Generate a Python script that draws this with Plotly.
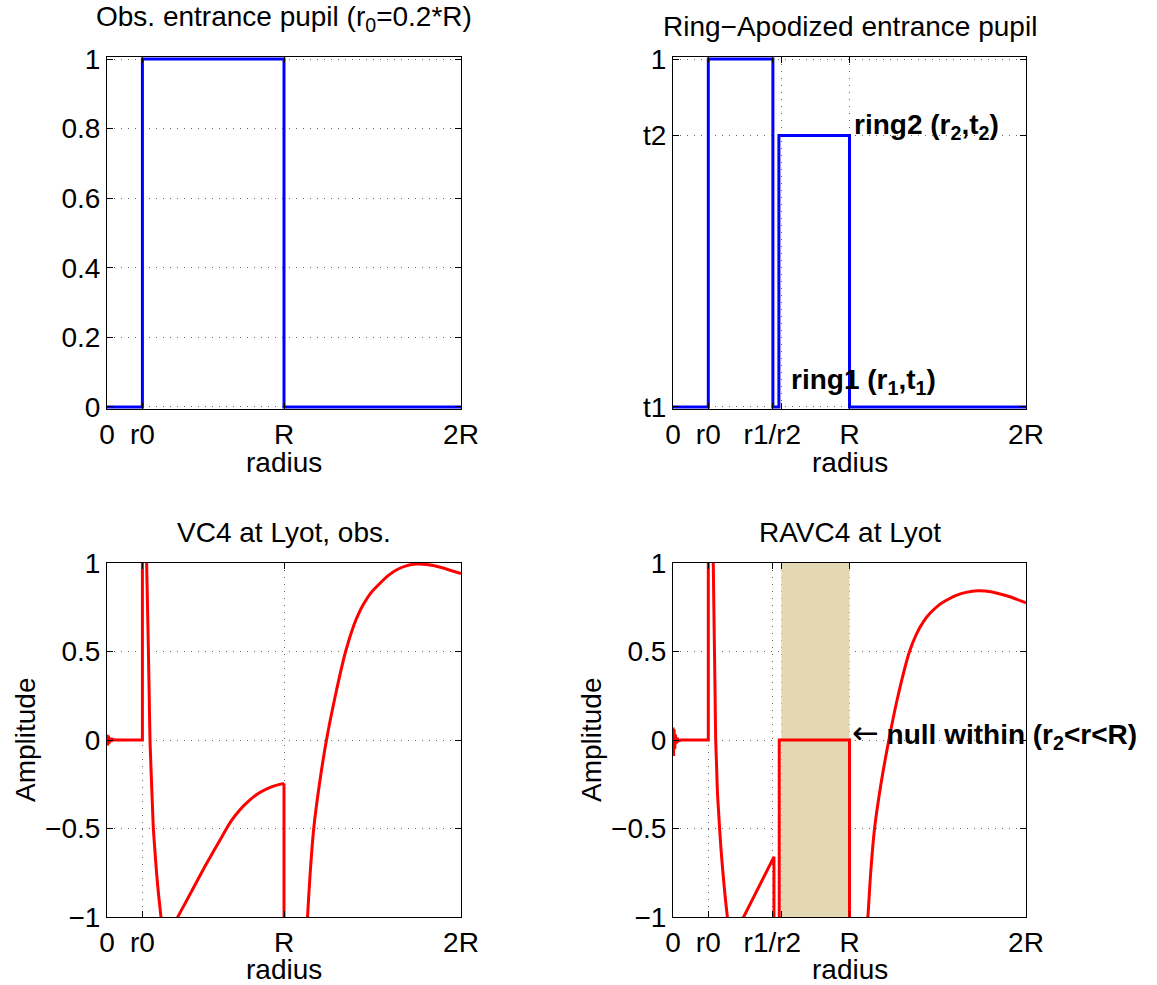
import plotly.graph_objects as go

W, H = 1157, 985
FONT = "Liberation Sans, Arial, Helvetica, sans-serif"
FS = 28

# ---- data (x in units of R) ----
# top-left: obstructed entrance pupil
obs_x = [0.0, 0.2, 0.2, 1.0, 1.0, 2.0]
obs_y = [0.0, 0.0, 1.0, 1.0, 0.0, 0.0]

# top-right: ring-apodized pupil (t1 at bottom, t2 level)
t1 = 0.0
t2 = 0.78
ring_x = [0.0, 0.2, 0.2, 0.566, 0.566, 0.600, 0.600, 1.0, 1.0, 2.0]
ring_y = [t1, t1, 1.0, 1.0, t1, t1, t2, t2, t1, t1]

# bottom-left: VC4 at Lyot, obstructed (steps drawn straight, curves smooth)
vc4_step1_x = [0.0, 0.004, 0.008, 0.012, 0.017, 0.023, 0.03, 0.04, 0.2, 0.2]
vc4_step1_y = [0.03, -0.03, 0.025, -0.02, 0.012, -0.008, 0.004, 0.0, 0.0, 3.0]
vc4_fall_x = [0.2, 0.205, 0.214, 0.224, 0.229, 0.234, 0.2385, 0.243, 0.2475, 0.252,
              0.257, 0.262, 0.271, 0.28, 0.292, 0.305, 0.32]
vc4_fall_y = [3.0, 2.6, 1.6, 1.0, 0.75, 0.5, 0.25, 0.0, -0.13, -0.25,
              -0.38, -0.5, -0.63, -0.75, -0.88, -1.0, -1.15]
vc4_rise_x = [0.385, 0.4, 0.45, 0.5, 0.55, 0.6, 0.65, 0.7, 0.75, 0.8, 0.85, 0.9, 0.95, 1.0]
vc4_rise_y = [-1.03, -1.0, -0.907, -0.814, -0.72, -0.632, -0.545, -0.46, -0.395, -0.345,
              -0.305, -0.278, -0.258, -0.245]
vc4_step2_x = [1.0, 1.0]
vc4_step2_y = [-0.245, -1.5]
vc4_outer_x = [1.122, 1.133, 1.148, 1.168, 1.2, 1.24, 1.29, 1.348, 1.395, 1.42, 1.448,
               1.49, 1.542, 1.59, 1.637, 1.69, 1.75, 1.85, 2.0]
vc4_outer_y = [-1.2, -1.0, -0.75, -0.5, -0.25, 0.0, 0.25, 0.5, 0.65, 0.71, 0.765,
               0.83, 0.885, 0.93, 0.962, 0.984, 0.994, 0.985, 0.94]

# bottom-right: RAVC4 at Lyot
ravc_step1_x = [0.0, 0.003, 0.006, 0.01, 0.014, 0.019, 0.025, 0.032, 0.045, 0.2, 0.2]
ravc_step1_y = [0.07, -0.09, 0.06, -0.05, 0.03, -0.02, 0.01, -0.005, 0.0, 0.0, 3.0]
ravc_fall_x = [0.2, 0.206, 0.216, 0.228, 0.2315, 0.235, 0.2385, 0.242, 0.247, 0.252,
               0.258, 0.264, 0.273, 0.283, 0.295, 0.308, 0.322]
ravc_fall_y = [3.0, 2.6, 1.6, 1.0, 0.75, 0.5, 0.25, 0.0, -0.15, -0.3,
               -0.4, -0.5, -0.63, -0.75, -0.88, -1.0, -1.12]
ravc_mid_x = [0.39, 0.572, 0.572, 0.602, 0.602, 1.0, 1.0]
ravc_mid_y = [-1.02, -0.66, -1.5, -1.5, 0.0, 0.0, -1.5]
ravc_outer_x = [1.094, 1.104, 1.12, 1.142, 1.178, 1.223, 1.275, 1.34, 1.38, 1.42, 1.46,
                1.51, 1.56, 1.605, 1.66, 1.727, 1.8, 1.9, 2.0]
ravc_outer_y = [-1.1, -1.0, -0.75, -0.5, -0.25, 0.0, 0.25, 0.5, 0.6, 0.67, 0.72,
                0.765, 0.795, 0.817, 0.834, 0.843, 0.838, 0.812, 0.775]

# null zone band (r2 < r < R)
band_x = [0.614, 1.0]

# ticks
left_xticks = [0.0, 0.2, 1.0, 2.0]
left_xlabels = ["0", "r0", "R", "2R"]
right_xticks = [0.0, 0.2, 0.563, 0.614, 1.0, 2.0]
right_xlabels = ["0", "r0", "r1/r2", "", "R", "2R"]
tl_yticks = [0.0, 0.2, 0.4, 0.6, 0.8, 1.0]
tl_ylabels = ["0", "0.2", "0.4", "0.6", "0.8", "1"]
tr_yticks = [t1, t2, 1.0]
tr_ylabels = ["t1", "t2", "1"]
amp_yticks = [-1.0, -0.5, 0.0, 0.5, 1.0]
amp_ylabels = ["\u22121", "\u22120.5", "0", "0.5", "1"]

# ---- figure ----
def px_x(p):
    return p / W

def px_y(p):
    return 1 - p / H

LX = [px_x(107), px_x(461)]
RX = [px_x(673), px_x(1026)]
TY = [px_y(409), px_y(57)]
BY = [px_y(917), px_y(563)]

BLUE = "#0000FF"
RED = "#FF0000"

fig = go.Figure()

def line(x, y, color, xa, ya, shape="linear"):
    fig.add_trace(go.Scatter(x=x, y=y, mode="lines",
                             line=dict(color=color, width=3, shape=shape, smoothing=0.8),
                             xaxis=xa, yaxis=ya, showlegend=False, hoverinfo="skip"))

line(obs_x, obs_y, BLUE, "x", "y")
line(ring_x, ring_y, BLUE, "x2", "y2")

line(vc4_step1_x, vc4_step1_y, RED, "x3", "y3")
line(vc4_fall_x, vc4_fall_y, RED, "x3", "y3", "spline")
line(vc4_rise_x, vc4_rise_y, RED, "x3", "y3", "spline")
line(vc4_step2_x, vc4_step2_y, RED, "x3", "y3")
line(vc4_outer_x, vc4_outer_y, RED, "x3", "y3", "spline")

line(ravc_step1_x, ravc_step1_y, RED, "x4", "y4")
line(ravc_fall_x, ravc_fall_y, RED, "x4", "y4", "spline")
line(ravc_mid_x, ravc_mid_y, RED, "x4", "y4")
line(ravc_outer_x, ravc_outer_y, RED, "x4", "y4", "spline")

def axis(domain, anchor, tickvals, ticktext, rng):
    return dict(domain=domain, anchor=anchor, range=rng, tickmode="array",
                tickvals=tickvals, ticktext=ticktext, automargin=False,
                showline=True, linecolor="black", linewidth=1, mirror="allticks",
                ticks="inside", ticklen=6, tickcolor="black", tickwidth=1,
                showgrid=True, gridcolor="rgba(0,0,0,0.6)", griddash="1px,6px", gridwidth=1,
                zeroline=False, tickfont=dict(family=FONT, size=FS, color="black"),
                fixedrange=True)

pad = 0.006
fig.update_layout(
    template="none",
    width=W, height=H, autosize=False,
    margin=dict(l=0, r=0, t=0, b=0, pad=0),
    paper_bgcolor="white", plot_bgcolor="white",
    font=dict(family=FONT, size=FS, color="black"),
    xaxis=axis(LX, "y", left_xticks, left_xlabels, [0, 2]),
    yaxis=axis(TY, "x", tl_yticks, tl_ylabels, [-pad, 1 + pad]),
    xaxis2=axis(RX, "y2", right_xticks, right_xlabels, [0, 2]),
    yaxis2=axis(TY, "x2", tr_yticks, tr_ylabels, [t1 - pad, 1 + pad]),
    xaxis3=axis(LX, "y3", left_xticks, left_xlabels, [0, 2]),
    yaxis3=axis(BY, "x3", amp_yticks, amp_ylabels, [-1, 1]),
    xaxis4=axis(RX, "y4", right_xticks, right_xlabels, [0, 2]),
    yaxis4=axis(BY, "x4", amp_yticks, amp_ylabels, [-1, 1]),
)

fig.add_shape(type="rect", xref="x4", yref="y4", x0=band_x[0], x1=band_x[1], y0=-1, y1=1,
              fillcolor="#E4D8B2", line=dict(width=0), layer="between")

def ann(text, x, y, xref="paper", yref="paper", xanchor="center", yanchor="middle",
        textangle=0, yshift=0, xshift=0):
    fig.add_annotation(text=text, x=x, y=y, xref=xref, yref=yref, xanchor=xanchor,
                       yanchor=yanchor, showarrow=False, textangle=textangle,
                       yshift=yshift, xshift=xshift,
                       font=dict(family=FONT, size=FS, color="black"))

# titles
ann("Obs. entrance pupil (r<sub>0</sub>=0.2*R)", (LX[0] + LX[1]) / 2, px_y(19))
ann("Ring\u2212Apodized entrance pupil", (RX[0] + RX[1]) / 2, px_y(27))
ann("VC4 at Lyot, obs.", (LX[0] + LX[1]) / 2, px_y(532))
ann("RAVC4 at Lyot", (RX[0] + RX[1]) / 2, px_y(532))

# axis labels
for xc in [(LX[0] + LX[1]) / 2, (RX[0] + RX[1]) / 2]:
    ann("radius", xc, px_y(462))
    ann("radius", xc, px_y(969))
ann("Amplitude", px_x(25), px_y(740), textangle=-90)
ann("Amplitude", px_x(591), px_y(740), textangle=-90)

# in-plot notes
ann("<b>ring2 (r<sub>2</sub>,t<sub>2</sub>)</b>", 1.0, t2, xref="x2", yref="y2",
    xanchor="left", yshift=9, xshift=2)
ann("<b>ring1 (r<sub>1</sub>,t<sub>1</sub>)</b>", 0.657, 0.07, xref="x2", yref="y2",
    xanchor="left", yshift=1)
ann("<span style='font-family:DejaVu Sans;font-size:32px'>\u2190</span> "
    "<b>null within (r<sub>2</sub>&lt;r&lt;R)</b>", 1.0, 0.0, xref="x4", yref="y4",
    xanchor="left", yshift=6)

fig.write_html("out.html", config={"displayModeBar": False},
               post_script="document.body.style.margin='0px';")
